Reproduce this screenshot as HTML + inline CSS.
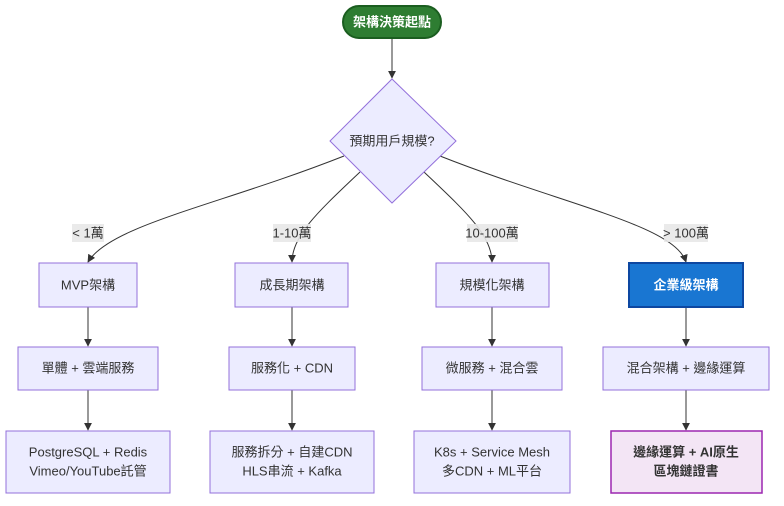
<!DOCTYPE html>
<html><head><meta charset="utf-8"><style>
body{margin:0;background:#fff}
svg{display:block}
text{font-family:"Liberation Sans","Noto Sans CJK TC",sans-serif;font-size:13px;fill:#333;text-anchor:middle;dominant-baseline:central}
.n{fill:#ECECFF;stroke:#9370DB;stroke-width:1}
.e{fill:none;stroke:#333;stroke-width:1}
.lb{fill:#e8e8e8;opacity:.9}
</style></head><body>
<svg width="784" height="506" viewBox="0 0 784 506">
<defs><marker id="a" viewBox="0 0 10 10" refX="9" refY="5" markerWidth="8" markerHeight="8" orient="auto"><path d="M0,0L10,5L0,10z" fill="#333"/></marker></defs>
<path class="e" d="M392,39V78" marker-end="url(#a)"/>
<path class="e" d="M344,156 C220,205 110,225 88,262" marker-end="url(#a)"/>
<path class="e" d="M360,172 C320,210 292,235 292,262" marker-end="url(#a)"/>
<path class="e" d="M424,172 C464,210 492,235 492,262" marker-end="url(#a)"/>
<path class="e" d="M440,156 C564,205 674,225 686,262" marker-end="url(#a)"/>
<path class="e" d="M88,307V346" marker-end="url(#a)"/>
<path class="e" d="M292,307V346" marker-end="url(#a)"/>
<path class="e" d="M492,307V346" marker-end="url(#a)"/>
<path class="e" d="M686,307V346" marker-end="url(#a)"/>
<path class="e" d="M88,390V430" marker-end="url(#a)"/>
<path class="e" d="M292,390V430" marker-end="url(#a)"/>
<path class="e" d="M492,390V430" marker-end="url(#a)"/>
<path class="e" d="M686,390V430" marker-end="url(#a)"/>
<rect class="lb" x="72" y="224" width="32" height="18"/><text x="88" y="233">&lt; 1萬</text>
<rect class="lb" x="273" y="224" width="38" height="18"/><text x="292" y="233">1-10萬</text>
<rect class="lb" x="467" y="224" width="51" height="18"/><text x="492" y="233">10-100萬</text>
<rect class="lb" x="664" y="224" width="44" height="18"/><text x="686" y="233">&gt; 100萬</text>
<rect x="343" y="6" width="98" height="32" rx="16" fill="#2e7d32" stroke="#1b5e20" stroke-width="2"/>
<text x="392" y="22" style="fill:#fff;font-weight:bold">架構決策起點</text>
<polygon class="n" points="392,79 456,141 392,203 330,141"/>
<text x="392" y="141">預期用戶規模?</text>
<rect class="n" x="39" y="263" width="98" height="44"/><text x="88" y="285">MVP架構</text>
<rect class="n" x="235" y="263" width="113" height="44"/><text x="292" y="285">成長期架構</text>
<rect class="n" x="436" y="263" width="113" height="44"/><text x="492" y="285">規模化架構</text>
<rect x="629" y="263" width="114" height="44" fill="#1976d2" stroke="#0d47a1" stroke-width="2"/><text x="686" y="285" style="fill:#fff;font-weight:bold">企業級架構</text>
<rect class="n" x="18" y="347" width="140" height="43"/><text x="88" y="368">單體 + 雲端服務</text>
<rect class="n" x="229" y="347" width="126" height="43"/><text x="292" y="368">服務化 + CDN</text>
<rect class="n" x="422" y="347" width="140" height="43"/><text x="492" y="368">微服務 + 混合雲</text>
<rect class="n" x="603" y="347" width="166" height="43"/><text x="686" y="368">混合架構 + 邊緣運算</text>
<rect class="n" x="6" y="431" width="164" height="62"/><text x="88" y="452">PostgreSQL + Redis</text><text x="88" y="471">Vimeo/YouTube託管</text>
<rect class="n" x="210" y="431" width="164" height="62"/><text x="292" y="452">服務拆分 + 自建CDN</text><text x="292" y="471">HLS串流 + Kafka</text>
<rect class="n" x="414" y="431" width="156" height="62"/><text x="492" y="452">K8s + Service Mesh</text><text x="492" y="471">多CDN + ML平台</text>
<rect x="611" y="431" width="151" height="62" fill="#f3e5f5" stroke="#9c27b0" stroke-width="1.5"/><text x="686" y="452" style="font-weight:bold">邊緣運算 + AI原生</text><text x="686" y="471" style="font-weight:bold">區塊鏈證書</text>
</svg>
</body></html>
